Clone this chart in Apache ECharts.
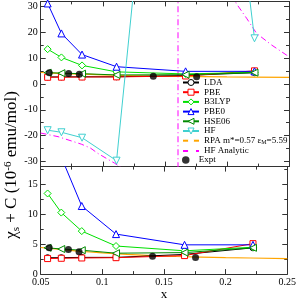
<!DOCTYPE html>
<html><head><meta charset="utf-8">
<script src="https://cdn.jsdelivr.net/npm/echarts@6/dist/echarts.min.js"></script>
<style>html,body{margin:0;padding:0;background:#fff}#c{width:299px;height:302px}</style>
</head><body><div id="c"></div>
<script>
// ---- data ----
const xDFT = [0.0556, 0.0667, 0.0833, 0.1111, 0.1667, 0.2222];
const lda   = [2.75, 2.75, 2.8, 2.8, 3.3, 4.4];
const pbe   = [2.6, 2.65, 2.7, 2.75, 3.1, 5.1];
const b3lyp = [13.5, 10.3, 7.2, 4.7, 3.9, 4.5];
const pbe0  = [31.2, 19.6, 11.4, 6.7, 4.9, 4.9];
const hse06 = [4.4, 4.2, 4.0, 3.5, 3.6, 4.4];
const hf    = [-17.9, -18.7, -20.8, -29.7, 237, 17.7];
const rpaX  = [0.05, 0.06, 0.07, 0.08, 0.09, 0.10, 0.12, 0.14, 0.16, 0.18, 0.20, 0.22, 0.25];
const rpaY  = [4.45, 4.25, 4.05, 3.85, 3.7, 3.55, 3.3, 3.1, 2.95, 2.85, 2.75, 2.7, 2.6];
const hfaX  = [0.05, 0.064, 0.0827, 0.09, 0.0961, 0.1096, 0.115, 0.13, 0.145, 0.155, 0.1605, 0.1607, 0.17, 0.19, 0.20, 0.2074, 0.2158, 0.2239, 0.236, 0.248, 0.25];
const hfaY  = [-19.0, -20.4, -23.3, -24.8, -26.9, -30.7, -32.5, -40, -60, -120, -2000, 2000, 220, 70, 42, 31.3, 25.5, 19.6, 15.1, 11.2, 10.9];
const exptX = [0.0569, 0.0725, 0.0811, 0.1407, 0.1756];
const exptY = [4.4, 4.1, 3.75, 3.0, 2.8];
const xMajor = [0.05, 0.1, 0.15, 0.2, 0.25];
const xMinor = [0.075, 0.125, 0.175, 0.225];
const yTopMajor = [-30, -20, -10, 0, 10, 20, 30];
const yTopMinor = [-25, -15, -5, 5, 15, 25];
const yBotMajor = [0, 5, 10, 15];
const yBotMinor = [2.5, 7.5, 12.5, 17.5];
const legendNames = ['LDA', 'PBE', 'B3LYP', 'PBE0', 'HSE06', 'HF', 'RPA', 'HF Analytic'];
const legendNames2 = ['Expt'];

// ---- build ----
const FONT = 'Liberation Serif';
const AX = '#333';
function pairs(xs, ys){ return xs.map((x,i)=>[x, ys[i]]); }
function axis(grid, pos, min, max, vals, len, line, label, extra){
  return Object.assign({
    type:'value', gridIndex:grid, position:pos, min:min, max:max,
    axisLine:{show:line, onZero:false, lineStyle:{color:AX, width:1}},
    axisTick:{show:true, inside:true, length:len, customValues:vals, lineStyle:{color:AX, width:1}},
    axisLabel:{show:label, customValues:vals, fontFamily:FONT, fontSize:10, color:'#000', margin:3},
    splitLine:{show:false}
  }, extra||{});
}
const xAxes = [
  axis(0,'bottom',0.05,0.25,xMajor,5,true,false),
  axis(0,'bottom',0.05,0.25,xMinor,3,false,false),
  axis(0,'top',0.05,0.25,xMajor,5,true,false),
  axis(0,'top',0.05,0.25,xMinor,3,false,false),
  axis(1,'bottom',0.05,0.25,xMajor,5,true,true,{name:'x', nameLocation:'middle', nameGap:11,
      nameTextStyle:{fontFamily:FONT, fontSize:13, color:'#000'}}),
  axis(1,'bottom',0.05,0.25,xMinor,3,false,false),
  axis(1,'top',0.05,0.25,xMajor,5,true,false),
  axis(1,'top',0.05,0.25,xMinor,3,false,false)
];
const yAxes = [
  axis(0,'left',-32,32,yTopMajor,5,true,true),
  axis(0,'left',-32,32,yTopMinor,3,false,false),
  axis(0,'right',-32,32,yTopMajor,5,true,false),
  axis(0,'right',-32,32,yTopMinor,3,false,false),
  axis(1,'left',0,18,yBotMajor,5,true,true),
  axis(1,'left',0,18,yBotMinor,3,false,false),
  axis(1,'right',0,18,yBotMajor,5,true,false),
  axis(1,'right',0,18,yBotMinor,3,false,false)
];

const methods = [
  {name:'LDA', y:lda, color:'#000000', symbol:'circle', rot:0, size:6},
  {name:'PBE', y:pbe, color:'#ff0000', symbol:'rect', rot:0, size:6},
  {name:'B3LYP', y:b3lyp, color:'#00e000', symbol:'diamond', rot:0, size:7},
  {name:'PBE0', y:pbe0, color:'#0000ff', symbol:'triangle', rot:0, size:7},
  {name:'HSE06', y:hse06, color:'#008a00', symbol:'triangle', rot:90, size:7},
  {name:'HF', y:hf, color:'#40d0d0', symbol:'triangle', rot:180, size:7, topOnly:true}
];
const series = [];
function addPanel(xi, yi, top){
  methods.forEach(m=>{
    if (m.topOnly && !top) return;
    series.push({type:'line', name:m.name, xAxisIndex:xi, yAxisIndex:yi, data:pairs(xDFT, m.y),
      symbol:m.symbol, symbolSize:m.size, symbolRotate:m.rot, showAllSymbol:true,
      lineStyle:{color:m.color, width:1}, itemStyle:{color:'#ffffff', borderColor:m.color, borderWidth:1},
      animation:false, clip:true, z:3});
  });
  series.push({type:'line', name:'RPA', xAxisIndex:xi, yAxisIndex:yi, data:pairs(rpaX, rpaY),
    symbol:'none', smooth:false, lineStyle:{color:'#ffa500', width:1.2}, itemStyle:{color:'#ffa500'},
    animation:false, clip:true, z:2});
  if (top) {
    series.push({type:'line', name:'HF Analytic', xAxisIndex:xi, yAxisIndex:yi, data:pairs(hfaX, hfaY),
      symbol:'none', lineStyle:{color:'#ff00ff', width:1, type:[6,3,1,3]}, itemStyle:{color:'#ff00ff'},
      animation:false, clip:true, z:2});
  }
  series.push({type:'scatter', name:'Expt', xAxisIndex:xi, yAxisIndex:yi, data:pairs(exptX, exptY),
    symbol:'circle', symbolSize:7, itemStyle:{color:'#000'}, animation:false, clip:true, z:4});
}
addPanel(0, 0, true);
addPanel(4, 4, false);

const legendText = {fontFamily:FONT, fontSize:9, lineHeight:9, color:'#000',
  rich:{a:{fontFamily:FONT, fontSize:9, color:'#000'}, s:{fontFamily:FONT, fontSize:6, color:'#000', padding:[4,0,0,0]}}};

const chart = echarts.init(document.getElementById('c'), null, {renderer:'canvas'});
chart.setOption({
  animation:false,
  backgroundColor:'#fff',
  grid:[
    {left:40.7, right:10, top:1.4, height:165.2},
    {left:40.7, right:10, top:166.6, height:116.2}
  ],
  xAxis:xAxes,
  yAxis:yAxes,
  legend:[{
    orient:'vertical', left:177, top:73, itemWidth:16, itemHeight:7.5, itemGap:0.7,
    data:legendNames, selectedMode:false,
    itemStyle:{color:'#ffffff', borderColor:'inherit', borderWidth:1},
    textStyle:legendText,
    formatter:function(n){ return n==='RPA' ? '{a|RPA m*=0.57 ε}{s|M}{a|=5.59}' : n; }
  },{
    orient:'vertical', left:177, top:73+8*9.7, itemWidth:16, itemHeight:7.5, itemGap:0.7,
    data:legendNames2, selectedMode:false,
    textStyle:legendText
  }],
  graphic:[{
    type:'text', x:12, y:165, rotation:Math.PI/2,
    style:{
      text:'{a|χ}{b|s}{a| + C (10}{c|-6}{a| emu/mol)}',
      align:'center', verticalAlign:'middle',
      rich:{
        a:{fontFamily:FONT, fontSize:17, fill:'#000'},
        b:{fontFamily:FONT, fontSize:11, fill:'#000', padding:[8,0,0,0]},
        c:{fontFamily:FONT, fontSize:11, fill:'#000', padding:[0,0,8,0]}
      }
    }
  }],
  series:series
});
</script></body></html>
